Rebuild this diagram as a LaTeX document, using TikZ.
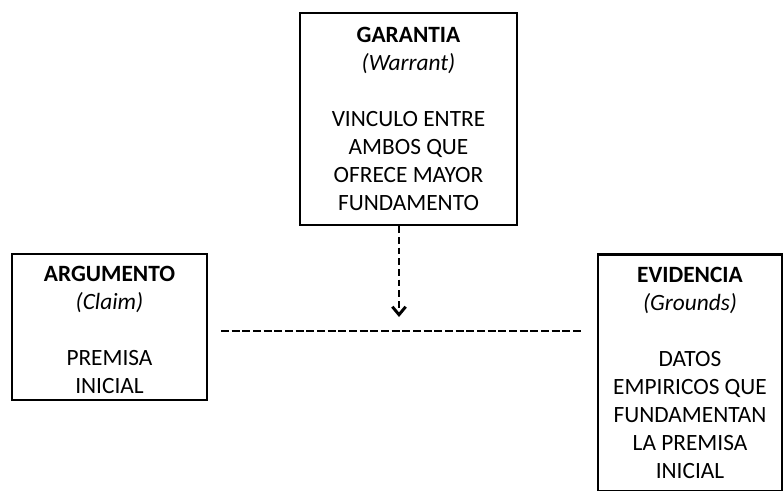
\documentclass[tikz,border=0pt]{standalone}
\usepackage{fontspec}
\setmainfont{Carlito}
\usetikzlibrary{arrows.meta,positioning}

\begin{document}
\begin{tikzpicture}
[x=0.75pt,y=-0.75pt,
 caja/.style={draw=black,line width=2.1pt,align=center,inner sep=0pt,
    font=\fontsize{17.5}{21}\selectfont},
 enlace/.style={line width=2pt,dash pattern=on 6pt off 2pt}]
\useasboundingbox (0,0) rectangle (784,491);

\node[caja,minimum width=162.75pt,minimum height=159pt] (garantia) at (408.5,119)
{\textbf{GARANTIA}\\ \textit{(Warrant)}\\[21pt] VINCULO ENTRE\\ AMBOS QUE\\ OFRECE MAYOR\\ FUNDAMENTO};
\node[caja,minimum width=146.25pt,minimum height=109.5pt] (argumento) at (109.5,327)
{\rule{0pt}{16pt}\textbf{ARGUMENTO}\\ \textit{(Claim)}\\[21pt] PREMISA\\ INICIAL};
\node[caja,minimum width=138pt,minimum height=178pt] (evidencia) at (690,373)
{\textbf{EVIDENCIA}\\ \textit{(Grounds)}\\[21pt] DATOS\\ EMPIRICOS QUE\\ FUNDAMENTAN\\ LA PREMISA\\ INICIAL};

\coordinate (punta) at (399,317);
\coordinate (izq) at (221,331);
\coordinate (der) at (583,331);

\draw [line width=1.5pt,dash pattern=on 5pt off 3pt,
  -{Straight Barb[length=6pt,width=10pt,line width=2.2pt]}] (garantia.south -| punta) -- (punta);
\draw [enlace] (izq) -- (der);
\end{tikzpicture}
\end{document}
